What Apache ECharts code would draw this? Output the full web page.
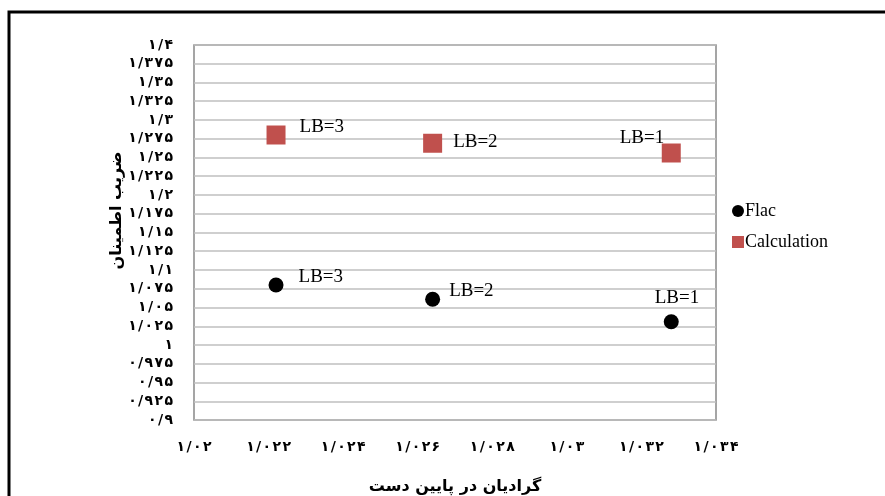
<!DOCTYPE html>
<html><head><meta charset="utf-8">
<script src="https://cdn.jsdelivr.net/npm/echarts@6/dist/echarts.min.js"></script>
<style>html,body{margin:0;padding:0;background:#fff}#c{width:885px;height:496px}</style>
</head><body><div id="c"></div>
<script>
const pointLabels = ['LB=3', 'LB=2', 'LB=1'];
const flacX = [1.0222, 1.0264, 1.0328];
const flacY = [1.080, 1.061, 1.031];
const calcX = [1.0222, 1.0264, 1.0328];
const calcY = [1.280, 1.269, 1.256];
const seriesNames = ['Flac', 'Calculation'];
const xAxisTitle = 'گرادیان در پایین دست';
const yAxisTitle = 'ضریب اطمینان';

const fa = '۰۱۲۳۴۵۶۷۸۹';
function toFa(v, dec) {
  let s = (+v.toFixed(dec)).toString();
  return s.replace(/\./g, '/').replace(/[0-9]/g, d => fa[+d]).split('').join('\u200A');
}
const flacOff = [[10, -8], [4, -8], [-29, -24]];
const calcOff = [[9, -8], [6, -1], [-66, -15]];
function build(xs, ys, offs) {
  return xs.map((x, i) => ({
    value: [x, ys[i]],
    label: { show: true, formatter: pointLabels[i], position: 'right', offset: offs[i],
      fontFamily: 'Liberation Serif', fontSize: 19, color: '#000' }
  }));
}
const chart = echarts.init(document.getElementById('c'));
chart.setOption({
  animation: false,
  textStyle: { fontFamily: 'DejaVu Sans' },
  grid: { left: 194, top: 45, right: 169, bottom: 76, show: true, borderColor: '#888', borderWidth: 1.5,
    containLabel: false, outerBoundsMode: 'none' },
  graphic: [{ type: 'rect', shape: { x: 9, y: 12, width: 900, height: 500 },
    style: { fill: 'none', stroke: '#000', lineWidth: 3 } }],
  legend: {
    orient: 'vertical', left: 727, top: 197, itemGap: 13, itemWidth: 12, itemHeight: 12,
    textStyle: { fontFamily: 'Liberation Serif', fontSize: 18, color: '#000', padding: [0, 0, 0, -4] },
    data: [{ name: seriesNames[0], icon: 'circle' }, { name: seriesNames[1], icon: 'rect' }]
  },
  xAxis: {
    type: 'value', min: 1.02, max: 1.034, interval: 0.002,
    name: xAxisTitle, nameLocation: 'middle', nameGap: 59,
    nameTextStyle: { fontFamily: 'DejaVu Sans', fontWeight: 'bold', fontSize: 16, color: '#000' },
    axisLine: { show: false }, axisTick: { show: false }, splitLine: { show: false },
    axisLabel: { margin: 20, fontWeight: 'bold', fontSize: 14, color: '#000', formatter: v => toFa(v, 3) }
  },
  yAxis: {
    type: 'value', min: 0.9, max: 1.4, interval: 0.025,
    name: yAxisTitle, nameLocation: 'middle', nameGap: 69, nameRotate: 90, nameMoveOverlap: false,
    nameTextStyle: { fontFamily: 'DejaVu Sans', fontWeight: 'bold', fontSize: 16, color: '#000', padding: [0, 0, 0, 44] },
    axisLine: { show: false }, axisTick: { show: false },
    splitLine: { lineStyle: { color: '#bfbfbf', width: 1.5 } },
    axisLabel: { margin: 21, fontWeight: 'bold', fontSize: 14, color: '#000', formatter: v => toFa(v, 3) }
  },
  series: [
    { name: seriesNames[0], type: 'scatter', symbol: 'circle', symbolSize: 15,
      itemStyle: { color: '#000', opacity: 1 }, data: build(flacX, flacY, flacOff) },
    { name: seriesNames[1], type: 'scatter', symbol: 'rect', symbolSize: 19,
      itemStyle: { color: '#c0504d', opacity: 1 }, data: build(calcX, calcY, calcOff) }
  ]
});
</script></body></html>
